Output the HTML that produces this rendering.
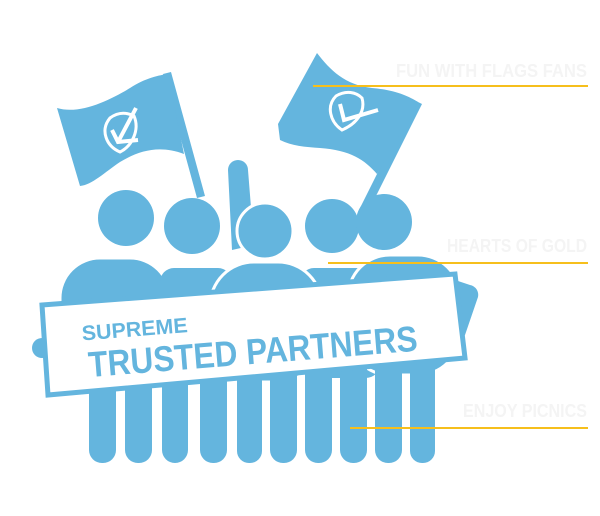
<!DOCTYPE html>
<html><head><style>html,body{margin:0;padding:0;background:#fff;}svg{display:block}</style></head>
<body>
<svg width="600" height="516" viewBox="0 0 600 516" xmlns="http://www.w3.org/2000/svg">
<g fill="#64b5de">
  <!-- flag poles -->
  <path d="M163,74 L171,72 L205,196 L197,198 Z"/>
  <path d="M414,100 L422,104 L367,214 L359,210 Z"/>
  <!-- left flag -->
  <path d="M57,108 C80,115 110,100 130,88 C145,78 160,75 168,74 L184,154 C160,145 140,150 120,162 C105,172 92,185 80,186 Z"/>
  <!-- right flag -->
  <path d="M317,53 C330,70 345,85 372,88 C395,90 408,96 418,102 L377,174 C365,160 350,150 320,148 C305,147 292,146 280,140 L278,124 Z"/>
  <!-- raised arm -->
  <path d="M228,170 a10,10 0 0 1 20,0 L254,245 L232,250 Z"/>
  <!-- bodies -->
  <rect x="60" y="258" width="110" height="120" rx="40" stroke="#fff" stroke-width="3"/>
  <rect x="160" y="268" width="72" height="110" rx="14"/>
  <rect x="300" y="268" width="80" height="110" rx="14"/>
  <rect x="210" y="262" width="112" height="120" rx="44" stroke="#fff" stroke-width="3"/>
  <rect x="348" y="255" width="112" height="120" rx="42" stroke="#fff" stroke-width="3"/>
  <path d="M440,275 L470,285 a10,10 0 0 1 8,12 L465,335 a9,9 0 0 1 -16,-6 L455,300 Z"/>
  <!-- heads -->
  <circle cx="126" cy="218" r="28"/>
  <circle cx="192" cy="226" r="28"/>
  <circle cx="265" cy="231" r="28" stroke="#fff" stroke-width="3"/>
  <circle cx="332" cy="226" r="27"/>
  <circle cx="384" cy="222" r="28"/>
  <!-- legs -->
  <g stroke="#fff" stroke-width="0">
  <rect x="89" y="340" width="27" height="123" rx="13"/>
  <rect x="125" y="340" width="27" height="123" rx="13"/>
  <rect x="162" y="340" width="26" height="123" rx="13"/>
  <rect x="200" y="340" width="27" height="123" rx="13"/>
  <rect x="237" y="340" width="25" height="123" rx="12"/>
  <rect x="270" y="340" width="27" height="123" rx="13"/>
  <rect x="305" y="340" width="27" height="123" rx="13"/>
  <rect x="340" y="340" width="27" height="123" rx="13"/>
  <rect x="375" y="340" width="27" height="123" rx="13"/>
  <rect x="410" y="340" width="25" height="123" rx="12"/>
  </g>
  <circle cx="42" cy="348" r="10"/>
</g>
<!-- shield icons -->
<g fill="none" stroke="#fff" stroke-width="3">
  <path d="M110,118 C118,112 126,112 134,116 C140,130 132,146 120,152 C106,146 100,130 110,118 Z"/>
  <path d="M112,130 L118,142 L138,140 M118,142 L136,108" stroke-width="4"/>
  <path d="M336,96 C346,90 356,92 362,98 C366,112 356,124 342,130 C330,122 326,106 336,96 Z"/>
  <path d="M340,104 L344,120 L378,110" stroke-width="4"/>
</g>
<!-- sign -->
<path d="M42,305 L455,274 L465,358 L48,395 Z" fill="#fff" stroke="#64b5de" stroke-width="5"/>
<g transform="rotate(-4.6 90 360)" fill="#64b5de" font-family="Liberation Sans, sans-serif" font-weight="bold">
  <text x="84" y="340" font-size="21" textLength="106" lengthAdjust="spacingAndGlyphs">SUPREME</text>
  <text x="88" y="377" font-size="36" textLength="330" lengthAdjust="spacingAndGlyphs">TRUSTED PARTNERS</text>
</g>
<!-- labels -->
<g fill="#f4f4f4" font-family="Liberation Sans, sans-serif" font-weight="bold" font-size="18" text-anchor="end">
  <text x="587" y="77" textLength="191" lengthAdjust="spacingAndGlyphs">FUN WITH FLAGS FANS</text>
  <text x="587" y="252" textLength="140" lengthAdjust="spacingAndGlyphs">HEARTS OF GOLD</text>
  <text x="587" y="417" textLength="124" lengthAdjust="spacingAndGlyphs">ENJOY PICNICS</text>
</g>
<g stroke="#f6bf1c" stroke-width="2">
  <line x1="313" y1="86" x2="588" y2="86"/>
  <line x1="328" y1="263" x2="588" y2="263"/>
  <line x1="350" y1="428" x2="588" y2="428"/>
</g>
</svg>
</body></html>
